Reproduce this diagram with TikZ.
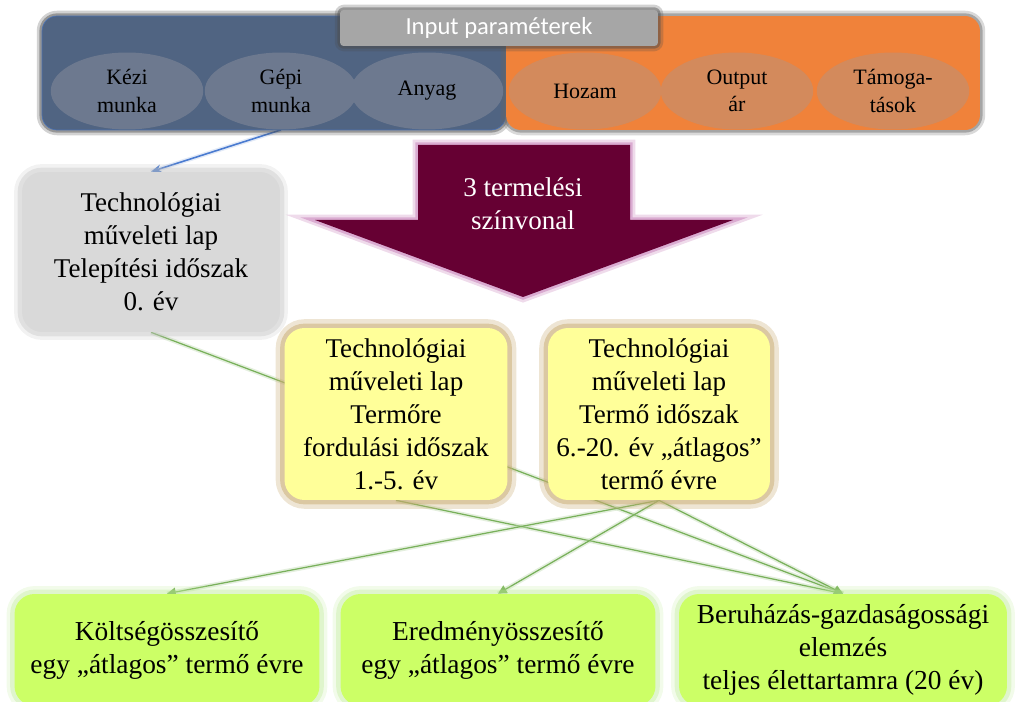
\documentclass[tikz,border=0pt]{standalone}
\usepackage{fontspec}
\setmainfont{Liberation Serif}
\newfontfamily\titlefont{Carlito}
\usepackage{tikz}
\usetikzlibrary{shapes.geometric,arrows.meta,positioning,calc,backgrounds}
\usepackage{xcolor}
\definecolor{inBlue}{HTML}{506482}
\definecolor{inBlueEll}{HTML}{6D798F}
\definecolor{outOrange}{HTML}{F0823A}
\definecolor{outOrangeEll}{HTML}{D38A5C}
\definecolor{titleGray}{HTML}{A6A6A6}
\definecolor{lvlMaroon}{HTML}{660033}
\definecolor{lvlGlow}{HTML}{C070B0}
\definecolor{setGray}{HTML}{D9D9D9}
\definecolor{setYellow}{HTML}{FFFF99}
\definecolor{yelGlow}{HTML}{C8AA70}
\definecolor{sumLime}{HTML}{CCFF66}
\definecolor{limeGlow}{HTML}{BDEB95}
\definecolor{lnGreen}{HTML}{78B05A}
\definecolor{lnBlue}{HTML}{4A7BD0}

\begin{document}
\begin{tikzpicture}[x=0.02cm, y=-0.02cm,
    glow/.style={preaction={draw=#1, line width=9pt, draw opacity=0.2},
                 preaction={draw=#1, line width=5pt, draw opacity=0.35}},
    strongglow/.style={preaction={draw=#1, line width=10pt, draw opacity=0.3},
                 preaction={draw=#1, line width=5pt, draw opacity=0.5}},
    thinglow/.style={line join=round, preaction={draw=#1, line width=6pt, draw opacity=0.25},
                 preaction={draw=#1, line width=3pt, draw opacity=0.45}},
    panel/.style={rounded corners=0.3cm, minimum height=2.28cm, inner sep=0pt},
    ell/.style={ellipse, minimum width=3.05cm, minimum height=1.54cm, inner sep=0pt,
                align=center, font=\fontsize{12.5}{15.4}\selectfont},
    sheet/.style={rounded corners=0.4cm, inner sep=0pt, align=center,
                  font=\fontsize{15.4}{18.8}\selectfont},
    summary/.style={sheet, fill=sumLime, glow=limeGlow, minimum height=2.24cm,
                    font=\fontsize{15.6}{18.8}\selectfont},
    conn/.style={draw=lnGreen, line width=0.7pt, -{Triangle[length=5pt,width=5pt]},
                 preaction={draw=lnGreen!50, line width=2.5pt, draw opacity=0.4, -}},
]
    \useasboundingbox (0,0) rectangle (1020,702);

    % input parameters
    \node[panel, fill=inBlue, draw=lnBlue!60!inBlue, thinglow=black!70, minimum width=9.28cm]
        (inpanel) at (274,73) {};
    \node[panel, fill=outOrange, thinglow=black!60, minimum width=9.48cm]
        (outpanel) at (743,73) {};
    \node[rounded corners=2pt, fill=titleGray, thinglow=black!70, minimum width=6.36cm,
          minimum height=0.72cm, text=white, font=\titlefont\fontsize{14}{16}\selectfont]
        (inputtitle) at (499,28) {Input paraméterek};
    \node[ell, fill=inBlueEll] (kezi) at (127,91) {Kézi\\munka};
    \node[ell, fill=inBlueEll] (gepi) at (281,91) {Gépi\\munka};
    \node[ell, fill=inBlueEll] (anyag) at (427,91) {Anyag};
    \node[ell, fill=outOrangeEll] (hozam) at (585,91) {Hozam};
    \node[ell, fill=outOrangeEll] (outar) at (737,91) {Output\\ár};
    \node[ell, fill=outOrangeEll] (tamog) at (893,91) {Támoga-\\tások};

    % production levels
    \fill[lvlMaroon, thinglow=lvlGlow] (418,145) -- (630,145) -- (630,220) -- (733,220)
        -- (523,297) -- (315,220) -- (418,220) -- cycle;
    \node[text=white, align=center, font=\fontsize{15.4}{18.8}\selectfont]
        (levels) at (523,204) {3 termelési\\színvonal};

    % operation sheets
    \node[sheet, fill=setGray, glow=black!25, minimum width=5.16cm, minimum height=3.2cm]
        (telep) at (151,252) {Technológiai\\műveleti lap\\Telepítési időszak\\0. év};
    \node[sheet, fill=setYellow, strongglow=yelGlow, minimum width=4.46cm, minimum height=3.44cm]
        (termore) at (396,414) {Technológiai\\műveleti lap\\Termőre\\fordulási időszak\\1.-5. év};
    \node[sheet, fill=setYellow, strongglow=yelGlow, minimum width=4.44cm, minimum height=3.44cm]
        (termo) at (659,414) {Technológiai\\műveleti lap\\Termő időszak\\6.-20. év „átlagos”\\termő évre};

    % summaries
    \node[summary, minimum width=6.1cm] (koltseg) at (167,650)
        {Költségösszesítő\\egy „átlagos” termő évre};
    \node[summary, minimum width=6.3cm] (eredmeny) at (498,650)
        {Eredményösszesítő\\egy „átlagos” termő évre};
    \node[summary, minimum width=6.56cm] (beruhazas) at (843,650)
        {Beruházás-gazdaságossági\\elemzés\\teljes élettartamra (20 év)};

    \begin{scope}[on background layer]
        \draw[line width=0.9pt, lnBlue, -{Stealth[length=6pt]},
              preaction={draw=lnBlue!40, line width=2.5pt, draw opacity=0.4, -}]
            (gepi.south) -- (telep.north);
        \draw[conn] (telep.south) -- (beruhazas.north);
        \draw[conn] (termore.south) -- (beruhazas.north);
        \draw[conn] (termo.south) -- (koltseg.north);
        \draw[conn] (termo.south) -- (eredmeny.north);
        \draw[conn] (termo.south) -- (beruhazas.north);
    \end{scope}
\end{tikzpicture}
\end{document}
